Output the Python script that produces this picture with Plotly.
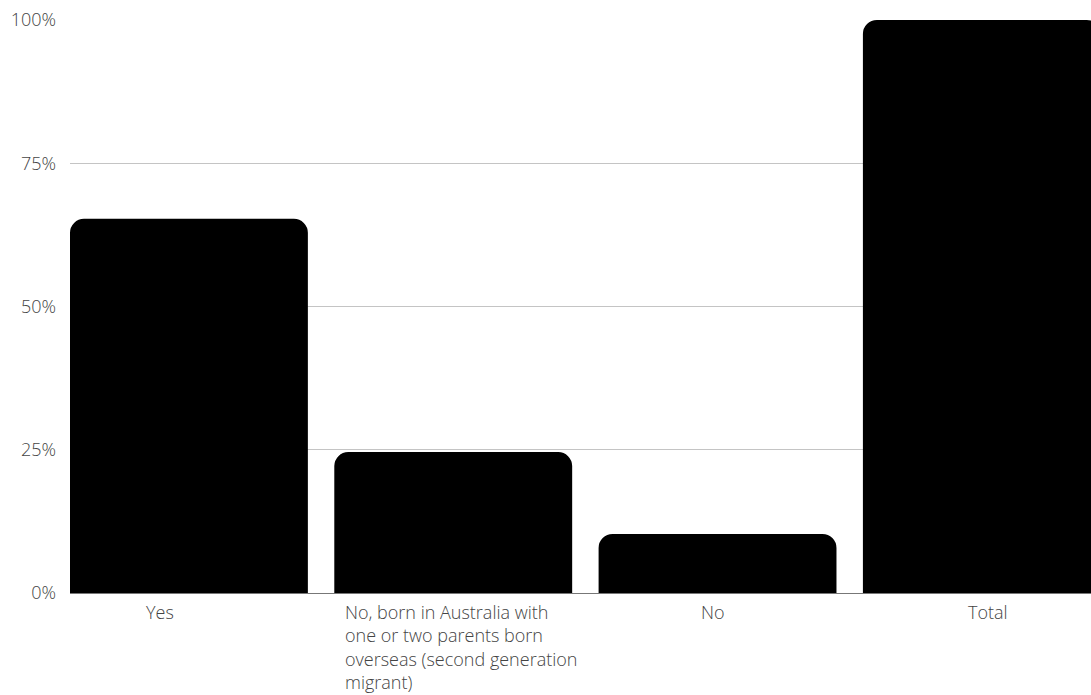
import plotly.graph_objects as go

# Share of respondents by migrant background
categories = ["Yes", "No, born in Australia with one or two parents born overseas (second generation migrant)", "No", "Total"]
label_lines = [
    ["Yes"],
    ["No, born in Australia with", "one or two parents born", "overseas (second generation", "migrant)"],
    ["No"],
    ["Total"],
]
values = [65.3, 24.6, 10.3, 100.0]
y_ticks = [0, 25, 50, 75, 100]
y_tick_text = ["0%", "25%", "50%", "75%", "100%"]

FONT = "Open Sans"
TEXT_COLOR = "#444444"
FONT_SIZE = 18

fig = go.Figure(
    go.Bar(
        x=list(range(len(categories))),
        y=values,
        marker=dict(color="#000000", line=dict(width=0)),
        width=0.9,
        hoverinfo="skip",
    )
)

# Category labels below the axis, left-aligned when wrapped
label_nudge = [-29, 8, -5, 6]
annotations = []
for i, lines in enumerate(label_lines):
    wrapped = len(lines) > 1
    annotations.append(
        dict(
            x=i,
            xref="x",
            y=0,
            yref="paper",
            yanchor="top",
            xanchor="center",
            yshift=-5,
            xshift=label_nudge[i],
            text="<br>".join(lines),
            align="left" if wrapped else "center",
            showarrow=False,
            font=dict(family=FONT, size=FONT_SIZE, color=TEXT_COLOR, weight=300),
        )
    )

fig.update_layout(
    width=1091,
    height=695,
    margin=dict(l=70, r=0, t=20, b=102),
    paper_bgcolor="#ffffff",
    plot_bgcolor="#ffffff",
    barcornerradius=14,
    showlegend=False,
    annotations=annotations,
    font=dict(family=FONT, size=FONT_SIZE, color=TEXT_COLOR, weight=300),
    xaxis=dict(
        range=[-0.45, 3.413],
        showticklabels=False,
        showgrid=False,
        zeroline=False,
        showline=False,
        ticks="",
        fixedrange=True,
    ),
    yaxis=dict(
        range=[0, 100],
        tickvals=y_ticks,
        ticktext=y_tick_text,
        showgrid=True,
        gridcolor="#c4c4c4",
        gridwidth=1,
        zeroline=True,
        zerolinecolor="#777777",
        zerolinewidth=1,
        showline=False,
        ticks="",
        ticklabelstandoff=13,
        tickfont=dict(family=FONT, size=FONT_SIZE, color=TEXT_COLOR, weight=300),
        fixedrange=True,
    ),
)

fig.write_html("out.html", config={"displayModeBar": False})
